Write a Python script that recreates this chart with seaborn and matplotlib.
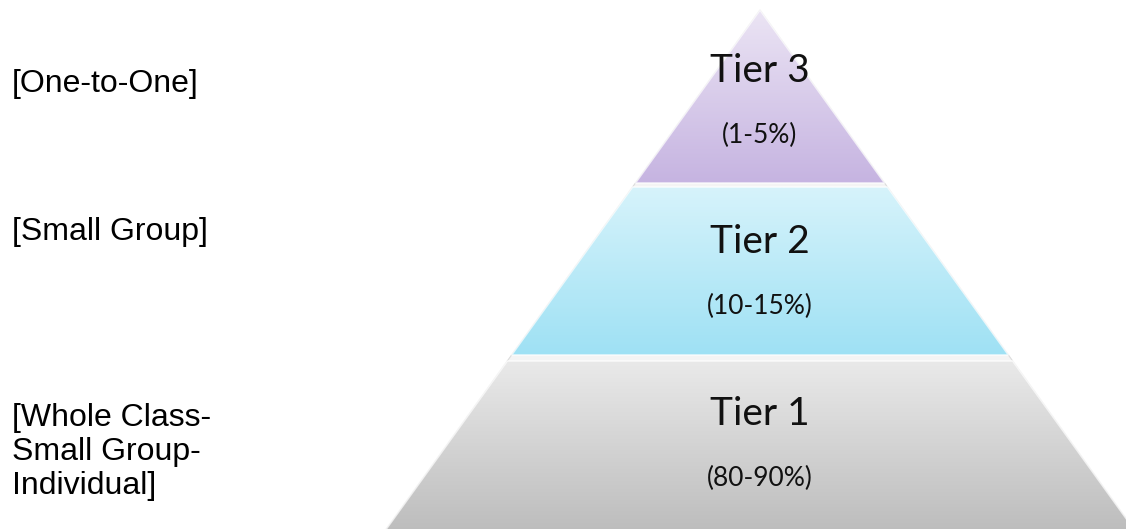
import numpy as np
import pandas as pd
import matplotlib
matplotlib.use("Agg")
import matplotlib.pyplot as plt
from matplotlib.patches import Polygon
import seaborn as sns

# DATA
tier_names = ["Tier 3", "Tier 2", "Tier 1"]
tier_shares = ["(1-5%)", "(10-15%)", "(80-90%)"]
group_labels = ["[One-to-One]", "[Small Group]", "[Whole Class-\nSmall Group-\nIndividual]"]
tier_top_colors = ["#ebe4f4", "#d6f3fb", "#e9e9e9"]
tier_bottom_colors = ["#c6b4e1", "#9fe1f4", "#bdbdbd"]

# layout of the pyramid (pixel space, y grows downward)
W, H = 1126, 529
APEX_X, APEX_Y = 760, 10
SLOPE = 0.72           # half-width gained per pixel down
BANDS = [(10, 183), (187, 355), (361, 532)]
GAP_FILL = "#f4f4f4"

sns.set_theme(style="white")
plt.rcParams["font.family"] = ["Lato", "DejaVu Sans"]

fig = plt.figure(figsize=(W / 100, H / 100), dpi=100)
ax = fig.add_axes([0, 0, 1, 1])
ax.set_xlim(0, W)
ax.set_ylim(H, 0)
ax.axis("off")


def half_width(y):
    return (y - APEX_Y) * SLOPE


tiers = pd.DataFrame({
    "name": tier_names,
    "share": tier_shares,
    "group": group_labels,
    "top": [b[0] for b in BANDS],
    "bottom": [b[1] for b in BANDS],
    "c_top": tier_top_colors,
    "c_bot": tier_bottom_colors,
})

# faint outline of the whole pyramid (shows in the gaps)
outer = Polygon([(APEX_X, APEX_Y), (APEX_X + half_width(H + 5), H + 5),
                 (APEX_X - half_width(H + 5), H + 5)],
                closed=True, facecolor=GAP_FILL, edgecolor="#dcdcdc", lw=0.8, zorder=1)
ax.add_patch(outer)

for _, t in tiers.iterrows():
    y0, y1 = t["top"], t["bottom"]
    pts = [(APEX_X - half_width(y0), y0), (APEX_X + half_width(y0), y0),
           (APEX_X + half_width(y1), y1), (APEX_X - half_width(y1), y1)]
    poly = Polygon(pts, closed=True, facecolor="none", edgecolor="#ffffff",
                   lw=1.2, alpha=0.7, zorder=3)
    ax.add_patch(poly)
    grad = sns.blend_palette([t["c_top"], t["c_bot"]], n_colors=64)
    img = np.array(grad)[:, None, :]
    im = ax.imshow(img, extent=(APEX_X - half_width(y1), APEX_X + half_width(y1), y1, y0),
                   aspect="auto", interpolation="bilinear", zorder=2)
    im.set_clip_path(poly)
    ax.set_xlim(0, W)
    ax.set_ylim(H, 0)

# tier text
name_y = [71, 242, 414]
share_y = [135, 306, 478]
for i, t in tiers.iterrows():
    ax.text(APEX_X, name_y[i], t["name"], ha="center", va="center",
            fontsize=28, color="#111111", zorder=4)
    ax.text(APEX_X, share_y[i], t["share"], ha="center", va="center",
            fontsize=19, color="#111111", zorder=4)

# left hand group labels
group_y = [84, 232, 452]
for i, t in tiers.iterrows():
    ax.text(12, group_y[i], t["group"], ha="left", va="center", fontsize=23,
            family=["Liberation Sans", "DejaVu Sans"], linespacing=1.18, color="black")

fig.savefig("out.png", dpi=100)
